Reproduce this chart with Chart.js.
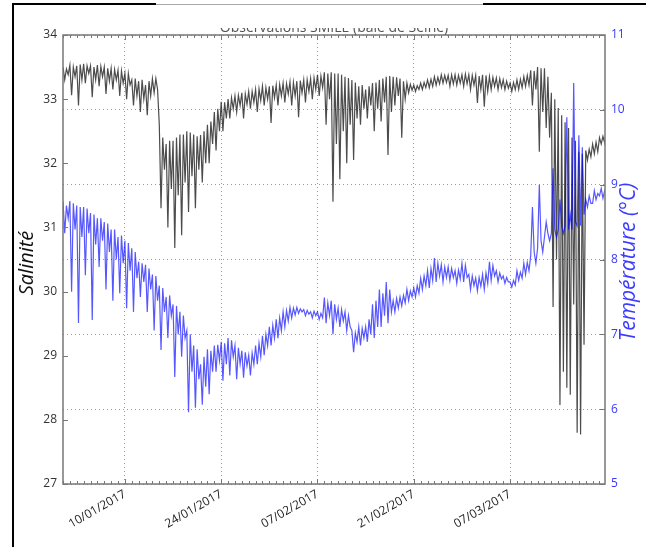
<!DOCTYPE html>
<html>
<head>
<meta charset="utf-8">
<script src="https://cdn.jsdelivr.net/npm/chart.js@4/dist/chart.umd.min.js"></script>
<style>
  html, body { margin: 0; padding: 0; background: #fff; }
  canvas { display: block; }
</style>
</head>
<body>
<canvas id="chart" width="646" height="547"></canvas>
<script>
// Observations SMILE (baie de Seine) - salinity and temperature, Jan-Mar 2017
// one reading every 6 hours from 01/01/2017 00:00 (x = days since that date)
const sampleStep = 0.25;

// one row per day: 00h, 06h, 12h, 18h
const salinity = [
  33.50, 33.30, 33.47, 33.38,   33.53, 33.06, 33.50, 33.35,   33.52, 32.90, 33.54, 33.30,
  33.55, 33.25, 33.52, 33.40,   33.52, 33.03, 33.50, 33.30,   33.53, 33.20, 33.51, 33.35,
  33.50, 33.08, 33.48, 33.28,   33.48, 33.15, 33.46, 33.30,   33.45, 33.05, 33.44, 33.25,
  33.40, 33.00, 33.40, 33.22,   33.30, 32.90, 33.32, 33.05,   33.28, 32.80, 33.30, 33.00,
  33.22, 32.75, 33.28, 33.05,   33.32, 33.10, 33.32, 33.15,   32.60, 31.30, 32.40, 31.90,
  32.30, 31.00, 32.35, 31.60,   32.35, 30.68, 32.40, 31.50,   32.45, 30.88, 32.45, 31.70,
  32.50, 31.24, 32.48, 31.80,   32.45, 31.30, 32.42, 31.90,   32.44, 31.70, 32.50, 32.00,
  32.60, 32.00, 32.65, 32.30,   32.80, 32.20, 32.85, 32.50,   32.96, 32.50, 32.95, 32.70,
  33.00, 32.70, 33.02, 32.85,   33.05, 32.80, 33.06, 32.90,   33.10, 32.70, 33.08, 32.92,
  33.12, 32.85, 33.12, 32.95,   33.15, 32.80, 33.16, 32.98,   33.20, 32.90, 33.18, 33.00,
  33.20, 32.63, 33.21, 33.02,   33.22, 32.90, 33.23, 33.05,   33.25, 32.95, 33.24, 33.08,
  33.27, 32.90, 33.26, 33.05,   33.28, 32.72, 33.29, 33.10,   33.30, 32.95, 33.30, 33.12,
  33.32, 33.00, 33.33, 33.15,   33.38, 33.05, 33.36, 33.18,   33.42, 32.60, 33.40, 33.00,
  33.42, 31.40, 33.40, 32.30,   33.40, 31.75, 33.38, 32.50,   33.35, 32.00, 33.33, 32.60,
  33.30, 32.05, 33.26, 32.70,   33.20, 32.60, 33.22, 32.85,   33.15, 32.70, 33.20, 32.90,
  33.25, 32.50, 33.26, 32.85,   33.30, 32.65, 33.32, 32.95,   33.35, 32.13, 33.36, 32.80,
  33.35, 32.90, 33.34, 33.05,   33.32, 32.40, 33.28, 33.00,   33.25, 33.10, 33.23, 33.14,
  33.22, 33.12, 33.21, 33.15,   33.25, 33.15, 33.26, 33.18,   33.30, 33.18, 33.31, 33.20,
  33.35, 33.22, 33.34, 33.24,   33.38, 33.25, 33.37, 33.26,   33.37, 33.20, 33.38, 33.24,
  33.38, 33.22, 33.37, 33.25,   33.38, 33.20, 33.39, 33.24,   33.38, 33.15, 33.37, 33.22,
  33.37, 32.94, 33.36, 33.15,   33.38, 32.88, 33.37, 33.12,   33.35, 33.15, 33.34, 33.20,
  33.33, 33.15, 33.32, 33.18,   33.30, 33.15, 33.28, 33.17,   33.25, 33.12, 33.26, 33.15,
  33.30, 33.15, 33.31, 33.18,   33.35, 33.20, 33.37, 33.22,   33.45, 32.90, 33.44, 33.15,
  33.50, 32.18, 33.48, 32.80,   33.48, 32.55, 33.35, 32.40,   33.10, 29.76, 33.00, 30.50,
  32.86, 28.23, 32.75, 28.75,   32.64, 28.50, 32.55, 28.39,   32.40, 29.80, 32.35, 27.80,
  32.18, 27.77, 32.15, 29.17,   32.20, 32.05, 32.22, 32.10,   32.30, 32.15, 32.33, 32.18,
  32.40, 32.30, 32.42, 32.32,   32.50
];

const temperature = [
  8.77, 8.35, 8.72, 8.55,   8.78, 7.57, 8.75, 8.40,   8.72, 7.15, 8.70, 8.30,
  8.70, 7.79, 8.68, 8.35,   8.62, 7.19, 8.60, 8.20,   8.55, 7.90, 8.55, 8.25,
  8.50, 7.60, 8.48, 8.10,   8.40, 7.45, 8.40, 8.00,   8.30, 7.55, 8.32, 7.95,
  8.25, 7.35, 8.22, 7.85,   8.15, 7.30, 8.10, 7.75,   7.97, 7.50, 7.95, 7.70,
  7.93, 7.30, 7.88, 7.60,   7.80, 7.05, 7.78, 7.45,   7.65, 6.79, 7.62, 7.30,
  7.50, 6.95, 7.52, 7.25,   7.40, 6.43, 7.38, 7.00,   7.30, 6.70, 7.25, 6.95,
  7.05, 5.96, 7.00, 6.50,   6.85, 6.02, 6.80, 6.40,   6.60, 6.06, 6.70, 6.30,
  6.80, 6.20, 6.78, 6.50,   6.85, 6.50, 6.86, 6.65,   6.90, 6.38, 6.88, 6.60,
  6.95, 6.45, 6.92, 6.70,   6.85, 6.40, 6.82, 6.60,   6.78, 6.42, 6.76, 6.58,
  6.72, 6.45, 6.75, 6.60,   6.85, 6.60, 6.88, 6.70,   6.98, 6.72, 7.00, 6.85,
  7.10, 6.85, 7.12, 6.95,   7.20, 6.95, 7.22, 7.05,   7.30, 7.10, 7.32, 7.18,
  7.36, 7.22, 7.35, 7.26,   7.36, 7.28, 7.34, 7.30,   7.33, 7.25, 7.32, 7.27,
  7.30, 7.22, 7.31, 7.25,   7.30, 7.20, 7.28, 7.22,   7.49, 7.15, 7.42, 7.25,
  7.45, 7.00, 7.40, 7.20,   7.35, 7.10, 7.33, 7.18,   7.30, 7.05, 7.25, 7.10,
  7.05, 6.76, 7.02, 6.90,   7.10, 6.85, 7.08, 6.95,   7.10, 6.90, 7.20, 7.00,
  7.40, 6.95, 7.45, 7.10,   7.60, 7.10, 7.55, 7.25,   7.70, 7.15, 7.60, 7.30,
  7.45, 7.30, 7.48, 7.35,   7.50, 7.38, 7.52, 7.42,   7.60, 7.45, 7.58, 7.50,
  7.62, 7.50, 7.65, 7.55,   7.75, 7.60, 7.78, 7.65,   7.85, 7.62, 7.88, 7.72,
  8.02, 7.70, 7.95, 7.78,   7.93, 7.70, 7.90, 7.76,   7.90, 7.72, 7.88, 7.76,
  7.85, 7.68, 7.86, 7.74,   7.95, 7.70, 7.92, 7.76,   7.80, 7.60, 7.78, 7.65,
  7.75, 7.58, 7.76, 7.64,   7.80, 7.60, 7.82, 7.68,   7.97, 7.72, 7.92, 7.78,
  7.85, 7.70, 7.82, 7.74,   7.78, 7.68, 7.76, 7.70,   7.70, 7.63, 7.72, 7.66,
  7.85, 7.72, 7.83, 7.75,   7.95, 7.80, 7.96, 7.85,   8.05, 8.70, 8.10, 7.95,
  8.15, 9.00, 8.25, 8.10,   8.30, 8.50, 8.35, 8.25,   8.35, 9.22, 8.40, 8.30,
  8.40, 8.80, 8.45, 8.35,   8.45, 9.90, 8.40, 8.60,   8.40, 10.36, 8.50, 8.45,
  9.66, 8.45, 9.50, 8.60,   8.80, 8.70, 8.85, 8.75,   8.75, 8.92, 8.80, 8.88,
  8.85, 8.95, 8.82, 8.92,   8.95
];

const dateTicks = [9, 23, 37, 51, 65];
const dateLabels = ['10/01/2017', '24/01/2017', '07/02/2017', '21/02/2017', '07/03/2017'];
const salinityTicks = [27, 28, 29, 30, 31, 32, 33, 34];
const temperatureTicks = [5, 6, 7, 8, 9, 10, 11];
const lastDay = 78.8;

const toPoints = (values) => values.map((v, i) => ({ x: i * sampleStep, y: v }));

Chart.defaults.font.family = "'Open Sans', sans-serif";

// spines, inward ticks, titles and the page frame
const decorations = {
  id: 'decorations',
  afterDraw(chart) {
    const { ctx, chartArea: a, scales } = chart;
    ctx.save();

    ctx.strokeStyle = '#777';
    ctx.lineWidth = 1.5;
    ctx.strokeRect(a.left, a.top, a.right - a.left, a.bottom - a.top);

    ctx.lineWidth = 1;
    ctx.beginPath();
    for (let d = 0; d <= Math.floor(lastDay); d++) {
      const x = Math.round(scales.x.getPixelForValue(d)) + 0.5;
      const len = dateTicks.includes(d) ? 5 : 3;
      ctx.moveTo(x, a.bottom);
      ctx.lineTo(x, a.bottom - len);
      ctx.moveTo(x, a.top);
      ctx.lineTo(x, a.top + len);
    }
    salinityTicks.forEach(v => {
      const y = Math.round(scales.yS.getPixelForValue(v)) + 0.5;
      ctx.moveTo(a.left, y);
      ctx.lineTo(a.left + 5, y);
    });
    temperatureTicks.forEach(v => {
      const y = Math.round(scales.yT.getPixelForValue(v)) + 0.5;
      ctx.moveTo(a.right, y);
      ctx.lineTo(a.right - 5, y);
    });
    ctx.stroke();

    // axis titles
    ctx.textAlign = 'center';
    ctx.textBaseline = 'middle';
    ctx.save();
    ctx.translate(27, 263);
    ctx.rotate(-Math.PI / 2);
    ctx.fillStyle = '#111';
    ctx.font = "italic 20px 'Open Sans'";
    ctx.fillText('Salinité', 0, 0);
    ctx.restore();

    ctx.save();
    ctx.translate(629, 262);
    ctx.rotate(-Math.PI / 2);
    ctx.fillStyle = '#3b3bff';
    ctx.font = "italic 21px 'Open Sans'";
    ctx.fillText('Température (°C)', 0, 0);
    ctx.restore();

    // chart title, top half hidden in the original capture
    ctx.save();
    ctx.beginPath();
    ctx.rect(0, 28, chart.width, 20);
    ctx.clip();
    ctx.fillStyle = '#555';
    ctx.font = "14px 'Open Sans'";
    ctx.textBaseline = 'alphabetic';
    ctx.fillText('Observations SMILE (baie de Seine)', (a.left + a.right) / 2, 32);
    ctx.restore();

    // page frame
    ctx.strokeStyle = '#000';
    ctx.lineWidth = 2;
    ctx.beginPath();
    ctx.moveTo(13, 547);
    ctx.lineTo(13, 4);
    ctx.lineTo(156, 4);
    ctx.moveTo(483, 4);
    ctx.lineTo(646, 4);
    ctx.stroke();
    ctx.strokeStyle = '#aaa';
    ctx.lineWidth = 1;
    ctx.beginPath();
    ctx.moveTo(156, 4.5);
    ctx.lineTo(483, 4.5);
    ctx.stroke();

    ctx.restore();
  }
};

new Chart(document.getElementById('chart'), {
  type: 'line',
  data: {
    datasets: [
      {
        label: 'Salinité',
        data: toPoints(salinity),
        yAxisID: 'yS',
        borderColor: 'rgba(0, 0, 0, 0.7)',
        borderWidth: 1.2,
        pointRadius: 0,
        tension: 0,
        order: 2
      },
      {
        label: 'Température',
        data: toPoints(temperature),
        yAxisID: 'yT',
        borderColor: 'rgba(0, 0, 255, 0.66)',
        borderWidth: 1.2,
        pointRadius: 0,
        tension: 0,
        order: 1
      }
    ]
  },
  options: {
    responsive: false,
    devicePixelRatio: 1,
    animation: false,
    layout: { padding: { top: 35, left: 0, right: 0, bottom: 0 } },
    plugins: {
      legend: { display: false },
      tooltip: { enabled: false },
      title: { display: false }
    },
    scales: {
      x: {
        type: 'linear',
        min: 0,
        max: lastDay,
        afterBuildTicks: (scale) => { scale.ticks = dateTicks.map(v => ({ value: v })); },
        afterFit: (scale) => { scale.height = 63; },
        ticks: {
          autoSkip: false,
          minRotation: 30,
          maxRotation: 30,
          padding: 3,
          color: '#222',
          font: { size: 12 },
          callback: (v) => dateLabels[dateTicks.indexOf(v)]
        },
        grid: { color: '#9a9a9a', lineWidth: 1, drawTicks: false },
        border: { display: false, dash: [1, 3] }
      },
      yS: {
        position: 'left',
        min: 27,
        max: 34,
        afterFit: (scale) => { scale.width = 63; },
        ticks: { stepSize: 1, padding: 6, color: '#333', font: { size: 12 } },
        grid: { display: false, drawTicks: false },
        border: { display: false }
      },
      yT: {
        position: 'right',
        min: 5,
        max: 11,
        afterFit: (scale) => { scale.width = 41; },
        ticks: { stepSize: 1, padding: 6, color: '#3a3aff', font: { size: 12 } },
        grid: { color: '#9a9a9a', lineWidth: 1, drawTicks: false },
        border: { display: false, dash: [1, 3] }
      }
    }
  },
  plugins: [decorations]
});
</script>
</body>
</html>
